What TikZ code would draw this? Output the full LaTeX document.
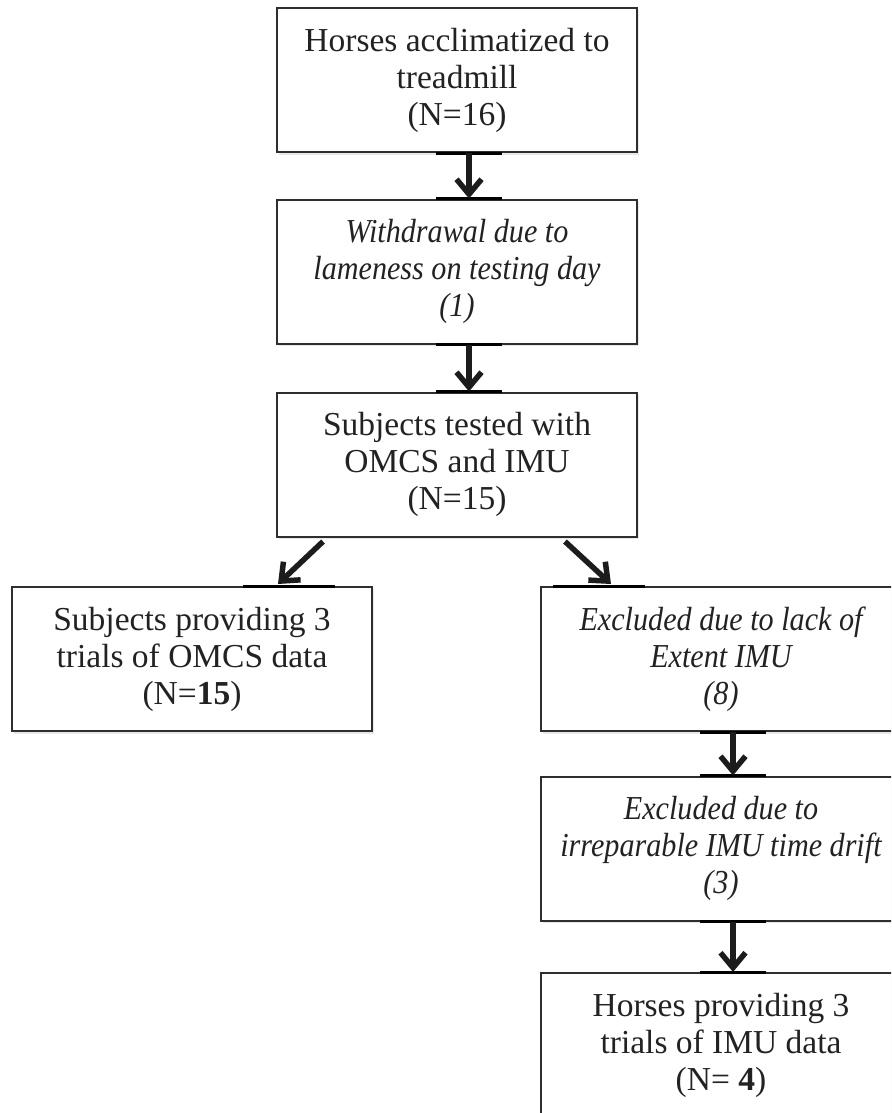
\documentclass[tikz,border=0pt]{standalone}
\usepackage{fontspec}
\setmainfont{Liberation Serif}[ItalicFeatures={FakeStretch=0.9}]
\usetikzlibrary{arrows.meta,shadows,calc}
\definecolor{boxc}{HTML}{2E2E2E}
\definecolor{txtc}{HTML}{222222}
\definecolor{arrc}{HTML}{1C1C1C}
\begin{document}
\begin{tikzpicture}[x=1pt,y=-1pt,
  flowbox/.style={draw=boxc, line width=2pt, fill=white, minimum width=360pt,
    minimum height=144pt, align=center, inner sep=0pt, text=txtc,
    font=\fontsize{33.5}{37}\selectfont,
    drop shadow={shadow xshift=2pt, shadow yshift=-2.5pt, opacity=0.18, fill=gray}},
  arr/.style={line width=5.5pt, draw=arrc, -{Straight Barb[length=15pt,width=25pt]}},
  seg/.style={line width=3pt, draw=black}]
\useasboundingbox (0,0) rectangle (891,1113);
\clip (0,0) rectangle (891,1113);
\fill[white] (0,0) rectangle (891,1113);
% boxes
\node[flowbox] (b1) at (457,80) {Horses acclimatized to\\treadmill\\(N=16)};
\node[flowbox] (b2) at (457,271.5) {\itshape Withdrawal due to\\\itshape lameness on testing day\\\itshape (1)};
\node[flowbox] (b3) at (457,464.5) {Subjects tested with\\OMCS and IMU\\(N=15)};
\node[flowbox] (b4) at (192,659) {Subjects providing 3\\trials of OMCS data\\(N=\textbf{15})};
\node[flowbox] (b5) at (721,659) {\itshape Excluded due to lack of\\\itshape Extent IMU\\\itshape (8)};
\node[flowbox] (b6) at (721,848.5) {\itshape Excluded due to\\\itshape irreparable IMU time drift\\\itshape (3)};
\node[flowbox] (b7) at (721,1045) {Horses providing 3\\trials of IMU data\\(N= \textbf{4})};
% x positions
\coordinate (ax) at (469,0);
\coordinate (axl) at (436,0);
\coordinate (axr) at (502,0);
\coordinate (bx) at (733,0);
\coordinate (bxl) at (700,0);
\coordinate (bxr) at (766,0);
\coordinate (cxl) at (243,0);
\coordinate (cxr) at (335,0);
\coordinate (dxl) at (553,0);
\coordinate (dxr) at (645,0);
% dark border segments
\draw[seg] (b1.south -| axl) -- (b1.south -| axr);
\draw[seg] (b2.north -| axl) -- (b2.north -| axr);
\draw[seg] (b2.south -| axl) -- (b2.south -| axr);
\draw[seg] (b3.north -| axl) -- (b3.north -| axr);
\draw[seg] (b4.north -| cxl) -- (b4.north -| cxr);
\draw[seg] (b5.north -| dxl) -- (b5.north -| dxr);
\draw[seg] (b5.south -| bxl) -- (b5.south -| bxr);
\draw[seg] (b6.north -| bxl) -- (b6.north -| bxr);
\draw[seg] (b6.south -| bxl) -- (b6.south -| bxr);
\draw[seg] (b7.north -| bxl) -- (b7.north -| bxr);
% arrows
\draw[arr] (b1.south -| ax) -- (b2.north -| ax);
\draw[arr] (b2.south -| ax) -- (b3.north -| ax);
\draw[arr] ($(b3.south)+(-134,4)$) -- ($(b4.north)+(86,-2)$);
\draw[arr] ($(b3.south)+(108,4)$) -- ($(b5.north)+(-110,-2)$);
\draw[arr] (b5.south -| bx) -- (b6.north -| bx);
\draw[arr] (b6.south -| bx) -- (b7.north -| bx);
\end{tikzpicture}
\end{document}
